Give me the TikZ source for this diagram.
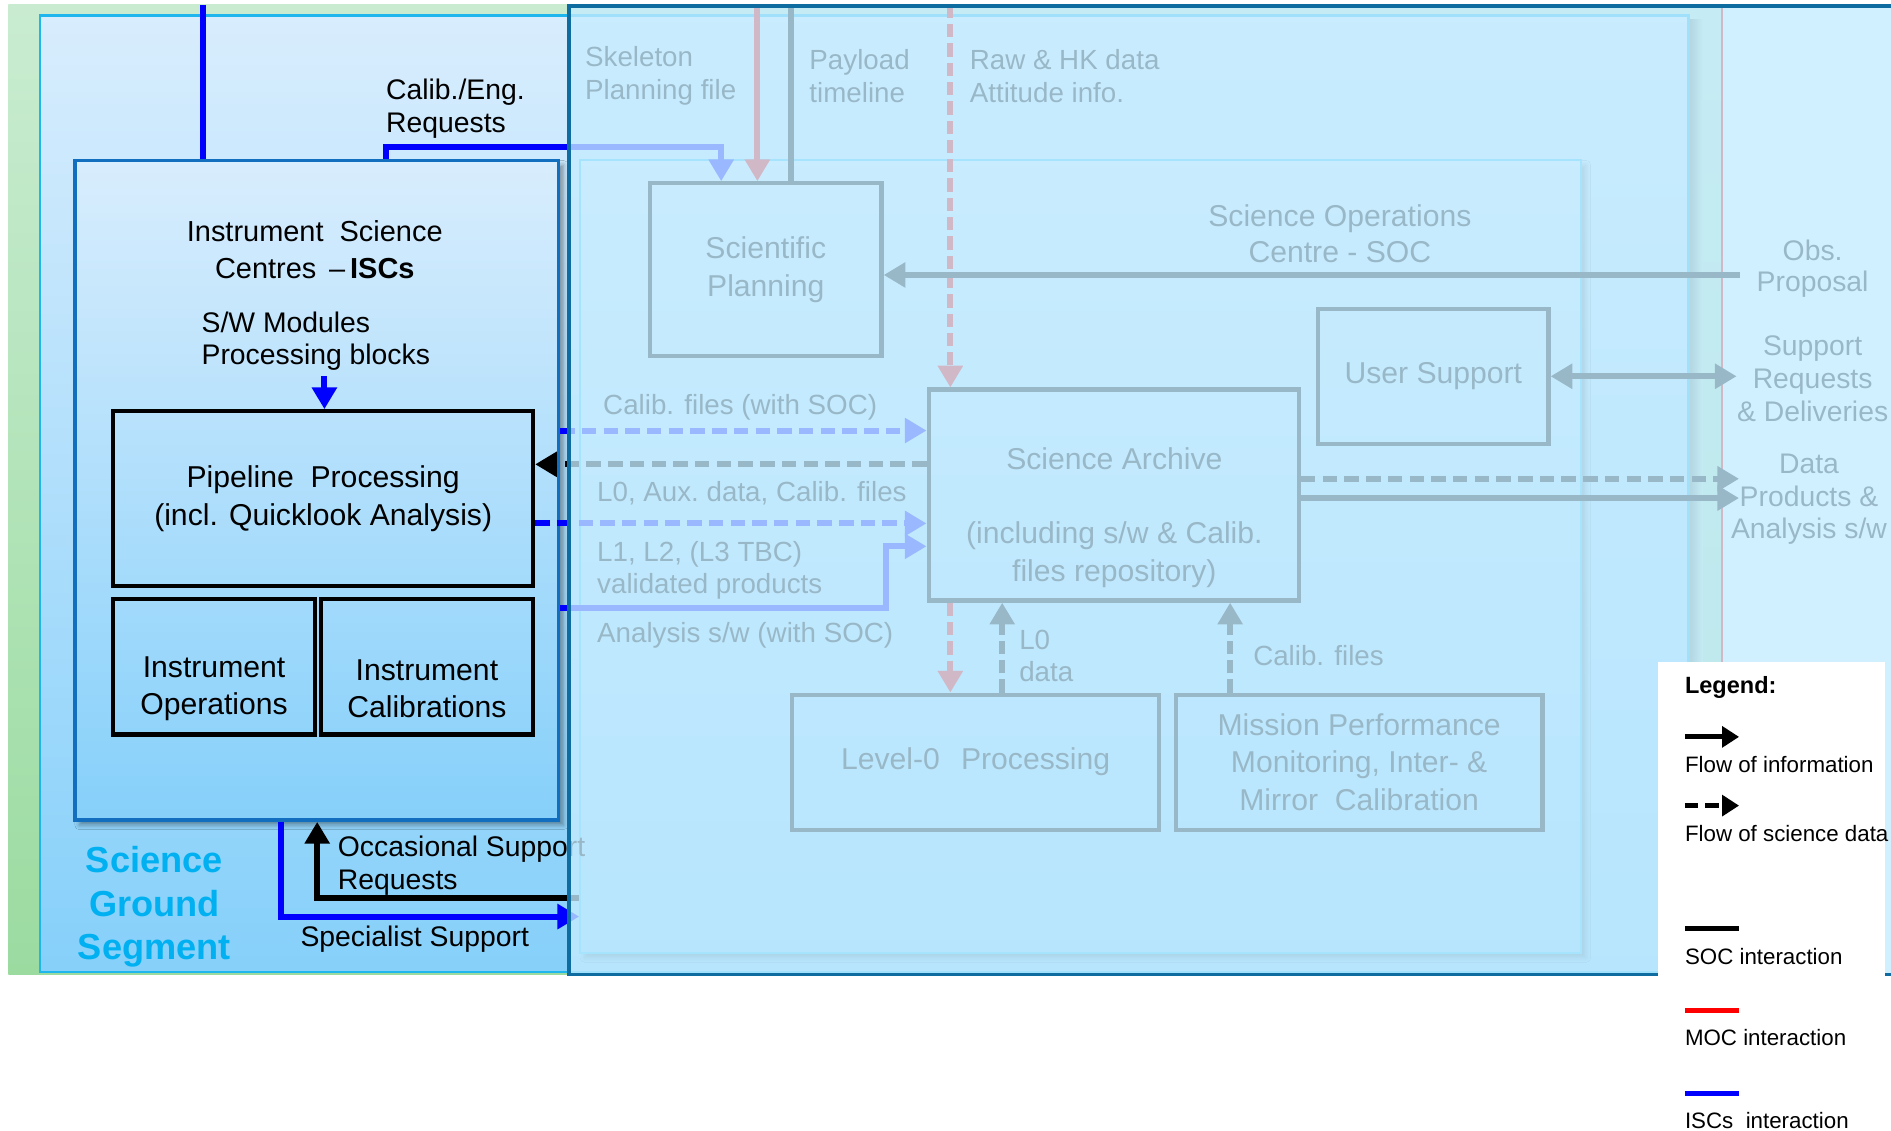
\documentclass[tikz,border=0pt]{standalone}
\usepackage{fontspec}
\setmainfont{Liberation Sans}
\usetikzlibrary{arrows.meta,shadows.blur}

\definecolor{iscblue}{RGB}{0,0,255}
\definecolor{mocred}{RGB}{255,0,0}
\definecolor{greentop}{RGB}{201,236,209}
\definecolor{greenbot}{RGB}{155,219,160}
\definecolor{paneltop}{RGB}{216,237,253}
\definecolor{panelbot}{RGB}{134,208,250}
\definecolor{sgsedge}{RGB}{30,182,236}
\definecolor{iscedge}{RGB}{18,110,190}
\definecolor{socedge}{RGB}{60,200,250}
\definecolor{veil}{RGB}{197,236,255}
\definecolor{veiledge}{RGB}{14,108,160}
\definecolor{sgstext}{RGB}{0,176,240}

\begin{document}
\begin{tikzpicture}[x=1pt,y=-1pt,
  >={Triangle[length=18pt,width=20pt]},
  isclink/.style={draw=iscblue,line width=5pt},
  soclink/.style={draw=black,line width=5pt},
  moclink/.style={draw=mocred,line width=5pt},
  hflow/.style={dash pattern=on 12pt off 6pt},
  vflow/.style={dash pattern=on 11pt off 5pt},
  unitbox/.style={draw=black,line width=3.5pt,inner sep=0pt},
  lbl/.style={font=\fontsize{23}{27}\selectfont,inner sep=0pt},
  boxlbl/.style={font=\fontsize{25}{31}\selectfont,inner sep=0pt,align=center},
  legtext/.style={font=\fontsize{18.5}{22}\selectfont,inner sep=0pt,anchor=west},
  panelshadow/.style={blur shadow={shadow xshift=4pt,shadow yshift=-4pt,shadow blur radius=4pt,shadow opacity=40}}
]
\useasboundingbox (0,0) rectangle (1568,937);
\clip (0,0) rectangle (1568,937);
\fill[white] (0,0) rectangle (1568,937);

% ground segment background and its right-hand boundary
\shade[top color=greentop,bottom color=greenbot] (7,4) rectangle (1428,808);
\shade[left color=black!45!greentop,right color=greentop] (1400,16) rectangle (1412,806);
\draw[mocred,line width=1.2pt] (1428,4) -- (1428,808);

% panels
\node[draw=sgsedge,line width=2pt,top color=paneltop,bottom color=panelbot,
      minimum width=1367pt,minimum height=793pt,inner sep=0pt] (sgs) at (716.5,409.5) {};
\node[draw=socedge,line width=1.5pt,top color=paneltop,bottom color=panelbot,
      minimum width=830pt,minimum height=657pt,inner sep=0pt,panelshadow] (soc) at (896,461.5) {};
\node[draw=iscedge,line width=3pt,top color=paneltop,bottom color=panelbot,
      minimum width=401pt,minimum height=547pt,inner sep=0pt,panelshadow] (isc) at (262.5,406.5) {};

% ISC blocks
\node[unitbox,boxlbl,minimum width=348pt,minimum height=145pt] (pipe) at (268,413.5)
  {Pipeline\ \ Processing\\(incl. Quicklook Analysis)};
\node[unitbox,minimum width=167pt,minimum height=112pt] (iops) at (177.5,553) {};
\node[unitbox,minimum width=176pt,minimum height=112pt] (ical) at (354,553) {};
\node[boxlbl] (iopstext) at (177.5,571) {Instrument\\Operations};
\node[boxlbl] (icaltext) at (354,571) {Instrument\\Calibrations};

% SOC blocks
\node[unitbox,boxlbl,minimum width=192pt,minimum height=143pt] (sp) at (635,223.5) {Scientific\\Planning};
\node[unitbox,boxlbl,minimum width=191pt,minimum height=112pt] (us) at (1188.5,312) {User Support};
\node[unitbox,minimum width=307pt,minimum height=175pt] (sa) at (923.5,410.5) {};
\node[boxlbl] (satext) at (924,429) {Science Archive\\[31pt](including s/w \& Calib.\\files repository)};
\node[unitbox,boxlbl,minimum width=304pt,minimum height=112pt] (lzero) at (809,632) {Level-0\hspace{0.7em}Processing};
\node[unitbox,boxlbl,minimum width=304pt,minimum height=112pt] (mpm) at (1127,632)
  {Mission Performance\\Monitoring, Inter- \&\\Mirror\ \ Calibration};

% ISC side labels
\node[lbl,align=center,font=\fontsize{24}{30}\selectfont] (isctitle) at (261,207)
  {Instrument\ \ Science\\Centres \,--\,\textbf{ISCs}};
\node[lbl,align=left,anchor=west,font=\fontsize{23.5}{27}\selectfont] (swm) at (167,283) {S/W Modules\\Processing blocks};
\node[lbl,align=left,anchor=west,font=\fontsize{23.5}{27}\selectfont] (calreq) at (320,90) {Calib./Eng.\\Requests};
\node[align=center,inner sep=0pt,text=sgstext,font=\fontsize{30}{36}\selectfont\bfseries] (sgstitle) at (128,752)
  {Science\\Ground\\Segment};
\node[lbl,align=left,anchor=west,font=\fontsize{23.5}{27}\selectfont] (occ) at (280,718) {Occasional Support\\Requests};
\node[lbl,anchor=west,font=\fontsize{23.5}{27}\selectfont] (spec) at (249,779) {Specialist Support};

% SOC side labels
\node[lbl,align=left,anchor=west] (skel) at (485,63) {Skeleton\\Planning file};
\node[lbl,align=left,anchor=west] (payload) at (671,63) {Payload\\timeline};
\node[lbl,align=left,anchor=west] (rawhk) at (804,63) {Raw \& HK data\\Attitude info.};
\node[boxlbl,font=\fontsize{25}{30}\selectfont] (soctitle) at (1111,194) {Science Operations\\Centre - SOC};
\node[lbl,align=center,font=\fontsize{23.5}{26}\selectfont] (obs) at (1503,223) {Obs.\\Proposal};
\node[lbl,align=center,font=\fontsize{23.5}{27}\selectfont] (supreq) at (1503,314) {Support\\Requests\\\& Deliveries};
\node[lbl,align=center,font=\fontsize{23.5}{27}\selectfont] (dataprod) at (1500,414) {Data\\Products \&\\Analysis s/w};
\node[lbl,anchor=west] (calsoc) at (500,338) {Calib. files (with SOC)};
\node[lbl,anchor=west] (lzaux) at (495,409) {L0, Aux.\ data, Calib. files};
\node[lbl,align=left,anchor=west] (lonetwo) at (495,473) {L1, L2, (L3 TBC)\\validated products};
\node[lbl,anchor=west] (anasw) at (495,527) {Analysis s/w (with SOC)};
\node[lbl,align=left,anchor=west] (lzdata) at (845,544) {L0\\data};
\node[lbl,anchor=west] (calfiles) at (1039,544) {Calib. files};

% ISC interactions
\coordinate (iscfeed) at (168,4);
\draw[isclink] (iscfeed) -- (iscfeed |- isc.north);
\draw[isclink,->] (isc.north -| 320,0) -- (320,122) -| (sp.north -| 598,0);
\coordinate (swfeed) at (269,312);
\draw[isclink,->] (swfeed) -- (swfeed |- pipe.north);
\draw[isclink,->] (isc.south -| 233,0) |- (soc.west |- 0,760);
\draw[soclink,<-] (isc.south -| 263,0) |- (soc.west |- 0,745);
\draw[isclink,hflow,->] (isc.east |- 0,357) -- (sa.west |- 0,357);
\draw[soclink,hflow,->] (sa.west |- 0,385) -- (pipe.east |- 0,385);
\draw[isclink,hflow,->] (pipe.east |- 0,434) -- (sa.west |- 0,434);
\draw[isclink,->] (isc.east |- 0,504) -| (735,453) -- (sa.west |- 0,453);

% SOC and MOC interactions
\coordinate (mocfeed) at (628,4);
\coordinate (ptlfeed) at (656,4);
\coordinate (rawfeed) at (788,4);
\draw[moclink,->] (mocfeed) -- (mocfeed |- sp.north);
\draw[soclink] (ptlfeed) -- (ptlfeed |- sp.north);
\draw[moclink,vflow,->] (rawfeed) -- (rawfeed |- sa.north);
\coordinate (obsend) at (1443,228);
\draw[soclink,->] (obsend) -- (sp.east |- obsend);
\coordinate (supend) at (1440,312);
\draw[soclink,<->] (us.east) -- (supend);
\coordinate (dpend) at (1442,397);
\draw[soclink,hflow,->] (sa.east |- dpend) -- (dpend);
\coordinate (daend) at (1442,413);
\draw[soclink,->] (sa.east |- daend) -- (daend);
\draw[moclink,vflow,->] (sa.south -| 788,0) -- (lzero.north -| 788,0);
\draw[soclink,vflow,->] (lzero.north -| 831,0) -- (sa.south -| 831,0);
\draw[soclink,vflow,->] (mpm.north -| 1020,0) -- (sa.south -| 1020,0);

% translucent veil over the SOC domain
\fill[veil,fill opacity=0.78] (472,5) rectangle (1600,808);
\draw[veiledge,line width=3pt] (472,5) rectangle (1600,808);

% legend
\fill[white] (1375,549) rectangle (1563,940);
\node[legtext,font=\fontsize{19.5}{22}\selectfont\bfseries] (legtitle) at (1397,570) {Legend:};
\coordinate (lga) at (1397,611); \coordinate (lgb) at (1442,611);
\draw[soclink,line width=4pt,-{Triangle[length=14pt,width=17pt]}] (lga) -- (lgb);
\node[legtext] (legflow) at (1397,634) {Flow of information};
\coordinate (lgc) at (1397,668); \coordinate (lgd) at (1442,668);
\draw[soclink,line width=4pt,dash pattern=on 11pt off 6pt,-{Triangle[length=14pt,width=17pt]}] (lgc) -- (lgd);
\node[legtext] (legdata) at (1397,691) {Flow of science data};
\coordinate (lge) at (1397,770); \coordinate (lgf) at (1442,770);
\draw[soclink,line width=4pt] (lge) -- (lgf);
\node[legtext] (legsoc) at (1397,793) {SOC interaction};
\coordinate (lgg) at (1397,838); \coordinate (lgh) at (1442,838);
\draw[moclink,line width=4pt] (lgg) -- (lgh);
\node[legtext] (legmoc) at (1397,860) {MOC interaction};
\coordinate (lgi) at (1397,907); \coordinate (lgj) at (1442,907);
\draw[isclink,line width=4pt] (lgi) -- (lgj);
\node[legtext] (legisc) at (1397,929) {ISCs\ \ interaction};
\end{tikzpicture}
\end{document}
